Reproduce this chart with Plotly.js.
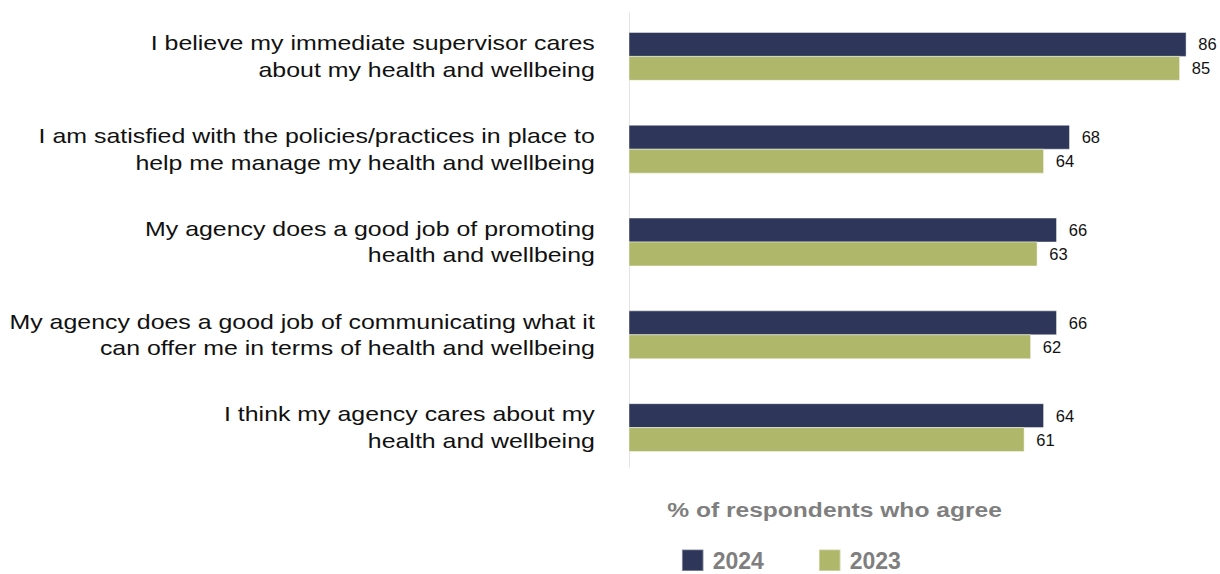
<!DOCTYPE html>
<html>
<head>
<meta charset="utf-8">
<script src="https://cdn.plot.ly/plotly-3.0.1.min.js"></script>
<style>html,body{margin:0;padding:0;background:#fff;}#chart{width:1220px;height:574px;}</style>
</head>
<body>
<div id="chart"></div>
<script>
const categories = [
  "I believe my immediate supervisor cares<br>about my health and wellbeing",
  "I am satisfied with the policies/practices in place to<br>help me manage my health and wellbeing",
  "My agency does a good job of promoting<br>health and wellbeing",
  "My agency does a good job of communicating what it<br>can offer me in terms of health and wellbeing",
  "I think my agency cares about my<br>health and wellbeing"
];
const values2024 = [86, 68, 66, 66, 64];
const values2023 = [85, 64, 63, 62, 61];
const seriesNames = ["2024", "2023"];
const axisTitle = "% of respondents who agree";

const FONT = '"Liberation Sans", Arial, sans-serif';
const colors = ["#2E3759", "#AFB76A"];

function barTrace(vals, name, color) {
  return {
    type: 'bar', orientation: 'h',
    x: vals, y: categories, name: name,
    marker: {color: color, line: {color: 'rgba(255,255,255,0.45)', width: 1}},
    text: vals.map(v => String(v)),
    texttemplate: '\u00a0\u00a0%{text}',
    textposition: 'outside', cliponaxis: false,
    textfont: {family: FONT, size: 16.5, color: '#111'},
    hoverinfo: 'skip'
  };
}

const data = [
  barTrace(values2024, seriesNames[0], colors[0]),
  barTrace(values2023, seriesNames[1], colors[1])
];

const layout = {
  width: 1220, height: 574,
  margin: {l: 629, r: 8, t: 9.5, b: 99.5, autoexpand: false},
  paper_bgcolor: '#fff', plot_bgcolor: '#fff',
  barmode: 'group', bargap: 0.484, bargroupgap: 0,
  font: {family: FONT},
  xaxis: {range: [0, 90], visible: false, fixedrange: true},
  yaxis: {
    autorange: 'reversed', showline: false,
    showgrid: false, zeroline: false, ticks: '', ticklabelstandoff: 33,
    tickfont: {family: FONT, size: 20.5, color: '#111'}
  },
  shapes: [{
    type: 'line', xref: 'x', yref: 'paper', x0: 0, x1: 0, y0: 0.014, y1: 0.9946,
    line: {color: '#C8C8C8', width: 1}, layer: 'below'
  }],
  showlegend: true,
  legend: {
    orientation: 'h', x: 0.075, xanchor: 'left', y: -0.186, yanchor: 'middle',
    font: {family: FONT, size: 23, color: '#7F7F7F', weight: 'bold'},
    entrywidth: 92, entrywidthmode: 'pixels'
  },
  annotations: [{
    text: '<b>' + axisTitle + '</b>', xref: 'paper', yref: 'paper',
    x: 0.353, y: -0.0763, xanchor: 'center', yanchor: 'middle', showarrow: false,
    font: {family: FONT, size: 20.5, color: '#7F7F7F'}
  }]
};

function stretchX(el, s, anchor) {
  const bb = el.getBBox();
  const ax = anchor === 'right' ? bb.x + bb.width : bb.x + bb.width / 2;
  const prev = el.getAttribute('transform') || '';
  el.setAttribute('transform', prev + ' translate(' + (ax * (1 - s)) + ',0) scale(' + s + ',1)');
}

Plotly.newPlot('chart', data, layout, {displayModeBar: false, staticPlot: true}).then(gd => {
  const yl = gd.querySelector('.yaxislayer-above');
  if (yl) stretchX(yl, 1.215, 'right');
  gd.querySelectorAll('.annotation-text').forEach(t => stretchX(t, 1.2, 'center'));
  gd.querySelectorAll('.legendpoints path').forEach(p => {
    const prev = p.getAttribute('transform') || '';
    p.setAttribute('transform', prev + ' scale(1.8)');
  });
});
</script>
</body>
</html>
